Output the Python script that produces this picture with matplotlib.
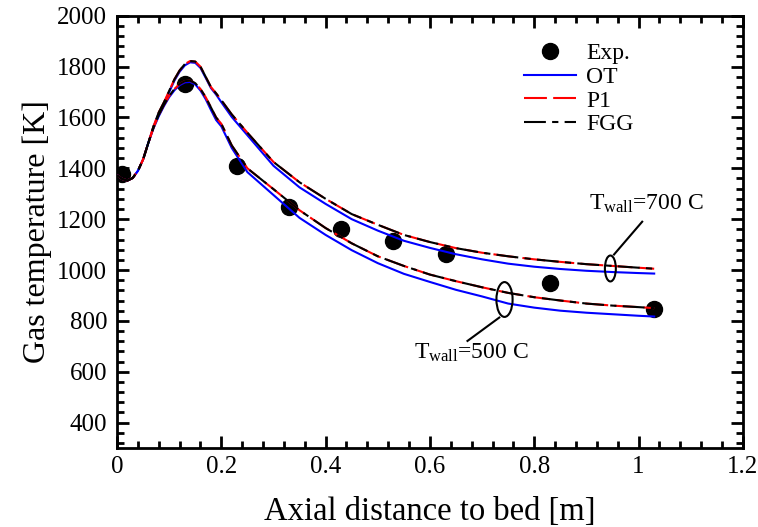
import matplotlib
matplotlib.use("Agg")
import matplotlib.pyplot as plt
from matplotlib.patches import Ellipse
from matplotlib.ticker import MultipleLocator, FuncFormatter

plt.rcParams['font.family'] = ['Liberation Serif', 'DejaVu Serif']
plt.rcParams['mathtext.fontset'] = 'custom'
plt.rcParams['mathtext.rm'] = 'Liberation Serif'
plt.rcParams['mathtext.it'] = 'Liberation Serif:italic'

# Measured gas temperature along the axis
exp_x = [0.01, 0.13, 0.23, 0.33, 0.43, 0.53, 0.63, 0.83, 1.03]
exp_T = [1378, 1730, 1410, 1246, 1163, 1116, 1064, 947, 845]

# Axial positions of the model profiles [m]
x_model = [0.00, 0.01, 0.02, 0.03, 0.04, 0.05, 0.06, 0.07, 0.08, 0.09,
           0.10, 0.11, 0.12, 0.13, 0.14, 0.15, 0.16, 0.17, 0.18, 0.19,
           0.20, 0.22, 0.25, 0.30, 0.35, 0.40, 0.45, 0.50, 0.55, 0.60,
           0.65, 0.70, 0.75, 0.80, 0.85, 0.90, 0.95, 1.00, 1.03]

# Wall temperature 700 C
ot_700 = [1373, 1358, 1352, 1362, 1390, 1435, 1500, 1564, 1616, 1656,
          1700, 1745, 1780, 1805, 1817, 1815, 1795, 1756, 1716, 1690,
          1660, 1602, 1530, 1410, 1325, 1260, 1200, 1155, 1115, 1087,
          1062, 1042, 1025, 1013, 1004, 997, 992, 988, 986]
p1_700 = [1373, 1358, 1352, 1362, 1390, 1435, 1500, 1566, 1620, 1660,
          1705, 1750, 1785, 1810, 1822, 1820, 1800, 1760, 1720, 1695,
          1668, 1612, 1540, 1425, 1345, 1280, 1220, 1178, 1138, 1110,
          1086, 1068, 1054, 1042, 1032, 1023, 1016, 1009, 1005]
fgg_700 = [1373, 1358, 1352, 1362, 1390, 1435, 1500, 1566, 1620, 1660,
           1705, 1750, 1785, 1810, 1822, 1820, 1800, 1760, 1720, 1695,
           1668, 1612, 1540, 1425, 1345, 1280, 1220, 1178, 1138, 1110,
           1086, 1068, 1054, 1042, 1032, 1023, 1016, 1009, 1005]

# Wall temperature 500 C
ot_500 = [1373, 1358, 1352, 1362, 1390, 1435, 1500, 1558, 1605, 1645,
          1680, 1707, 1727, 1738, 1740, 1730, 1706, 1672, 1630, 1590,
          1565, 1480, 1385, 1295, 1205, 1138, 1078, 1027, 985, 953,
          922, 896, 868, 852, 840, 832, 826, 820, 817]
p1_500 = [1373, 1358, 1352, 1362, 1390, 1435, 1500, 1560, 1610, 1650,
          1685, 1712, 1732, 1743, 1745, 1735, 1712, 1680, 1640, 1600,
          1575, 1490, 1400, 1318, 1235, 1165, 1105, 1054, 1016, 982,
          956, 932, 910, 893, 880, 868, 860, 854, 850]
fgg_500 = [1373, 1358, 1352, 1362, 1390, 1435, 1500, 1560, 1610, 1650,
           1685, 1712, 1732, 1743, 1745, 1735, 1712, 1680, 1640, 1600,
           1575, 1490, 1400, 1318, 1235, 1165, 1105, 1054, 1016, 982,
           956, 932, 910, 893, 880, 868, 860, 854, 850]

x_ticks = [0, 0.2, 0.4, 0.6, 0.8, 1.0, 1.2]
y_ticks = [400, 600, 800, 1000, 1200, 1400, 1600, 1800, 2000]

fig = plt.figure(figsize=(7.58, 5.27), dpi=100)
ax = fig.add_axes([0.1544, 0.150, 0.8256, 0.820])

ax.plot(exp_x, exp_T, 'o', color='black', markersize=11.5, zorder=2,
        label='Exp.', linestyle='none')

lw = 1.5
for T, lab in ((ot_700, 'OT'), (ot_500, None)):
    ax.plot(x_model, T, color='#0000ff', lw=lw, zorder=3, label=lab)
for T, lab in ((p1_700, 'P1'), (p1_500, None)):
    ax.plot(x_model, T, color='#ff0000', lw=lw, zorder=4, label=lab,
            dashes=(11, 3))
for T, lab in ((fgg_700, 'FGG'), (fgg_500, None)):
    ax.plot(x_model, T, color='black', lw=lw, zorder=4, label=lab,
            dashes=(10.5, 3, 3, 3))

ax.set_xlim(0, 1.2)
ax.set_ylim(300, 2000)
ax.set_xticks(x_ticks)
ax.set_yticks(y_ticks)
ax.xaxis.set_minor_locator(MultipleLocator(0.04))
ax.yaxis.set_minor_locator(MultipleLocator(40))
ax.xaxis.set_major_formatter(FuncFormatter(lambda v, p: f'{v:g}'))
ax.tick_params(which='both', direction='in', top=True, right=True,
               width=2.0, labelsize=18)
ax.tick_params(which='major', length=8.5)
ax.tick_params(which='minor', length=5)
ax.tick_params(axis='y', pad=7)
ax.tick_params(axis='x', pad=6)
for s in ax.spines.values():
    s.set_linewidth(2.0)

ax.set_xlabel('Axial distance to bed [m]', fontsize=23.5, labelpad=13)
ax.set_ylabel('Gas temperature [K]', fontsize=23, labelpad=4)

ax.legend(loc='upper left', bbox_to_anchor=(0.62, 0.981), frameon=False,
          fontsize=17, handlelength=2.2, handletextpad=0.45,
          labelspacing=0.09, borderpad=0.3)

# Wall-temperature markers
ax.add_patch(Ellipse((0.946, 1006), 0.021, 102, fill=False, lw=1.5,
                     color='black', zorder=5))
ax.plot([0.953, 1.007], [1061, 1190], color='black', lw=1.5, zorder=5)
ax.text(0.905, 1218, r'T$_{\rm wall}$=700 C', fontsize=17, ha='left',
        va='bottom')

ax.add_patch(Ellipse((0.743, 884), 0.031, 137, fill=False, lw=1.5,
                     color='black', zorder=5))
ax.plot([0.733, 0.672], [813, 721], color='black', lw=1.5, zorder=5)
ax.text(0.57, 632, r'T$_{\rm wall}$=500 C', fontsize=17, ha='left',
        va='bottom')

fig.savefig('out.png', dpi=100)
